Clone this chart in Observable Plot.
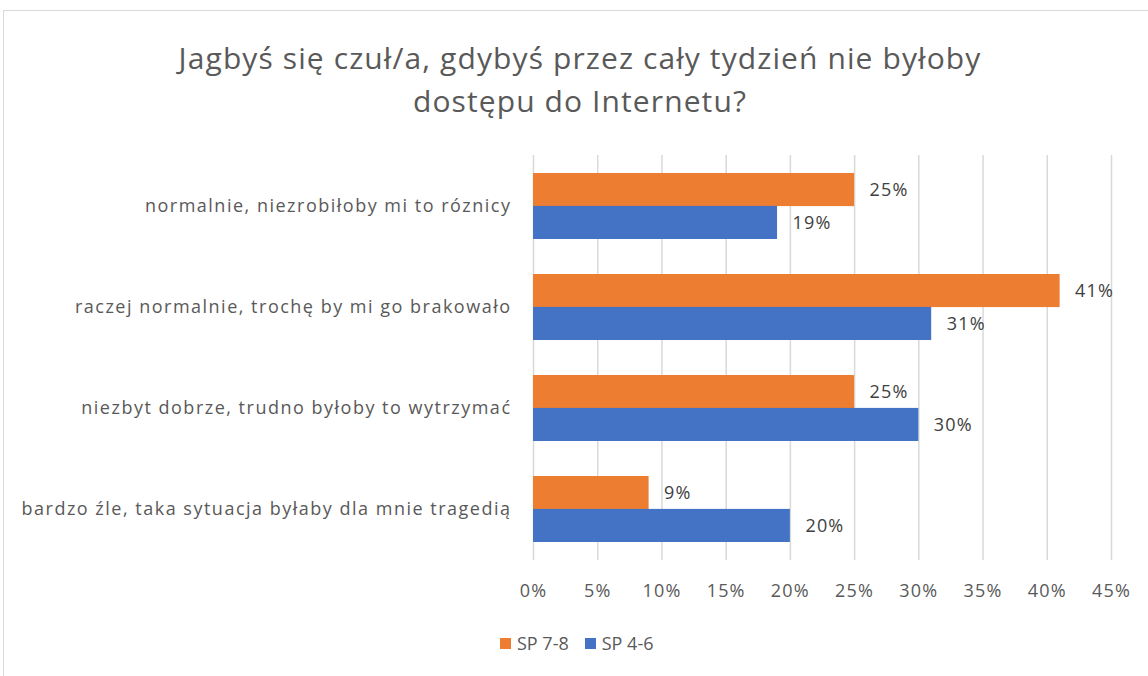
<!DOCTYPE html>
<html>
<head>
<meta charset="utf-8">
<script src="https://cdn.jsdelivr.net/npm/d3@7"></script>
<script src="https://cdn.jsdelivr.net/npm/@observablehq/plot@0.6"></script>
<style>
html, body { margin: 0; padding: 0; width: 1148px; height: 676px; overflow: hidden; background: #fff; font-family: "Open Sans", sans-serif; }
#frame { position: absolute; left: 3px; top: 10px; width: 1160px; height: 700px; border: 1px solid #d9d9d9; box-sizing: border-box; }
#title { position: absolute; left: 0; top: 36px; width: 1160px; text-align: center; font-size: 30px; line-height: 43px; color: #595959; letter-spacing: 1.1px; }
#chart { position: absolute; left: 0; top: 145px; }
#chart g[aria-label="y-axis tick label"] text { letter-spacing: 1.5px; }
#chart g[aria-label="x-axis tick label"] text { letter-spacing: 1.2px; }
#chart g[aria-label="text"] text { letter-spacing: 1.2px; }
#legend { position: absolute; top: 631px; left: 500px; font-size: 18px; color: #595959; display: flex; align-items: center; }
.sw { display: inline-block; width: 11px; height: 11px; margin-right: 6px; }
.item { display: flex; align-items: center; margin-right: 16px; }
</style>
</head>
<body>
<div id="frame"></div>
<div id="title">Jagbyś się czuł/a, gdybyś przez cały tydzień nie byłoby<br>dostępu do Internetu?</div>
<div id="chart"></div>
<div id="legend"></div>
<script>
const categories = [
  "normalnie, niezrobiłoby mi to róznicy",
  "raczej normalnie, trochę by mi go brakowało",
  "niezbyt dobrze, trudno byłoby to wytrzymać",
  "bardzo źle, taka sytuacja byłaby dla mnie tragedią"
];
const seriesNames = ["SP 7-8", "SP 4-6"];
const sp78 = [25, 41, 25, 9];
const sp46 = [19, 31, 30, 20];
const colors = ["#ED7D31", "#4472C4"];
const xTicks = [0, 5, 10, 15, 20, 25, 30, 35, 40, 45];

const d78 = categories.map((c, i) => ({category: c, series: seriesNames[0], value: sp78[i]}));
const d46 = categories.map((c, i) => ({category: c, series: seriesNames[1], value: sp46[i]}));

const H = 470, MT = 10, MB = 55;
const plotH = H - MT - MB;
const step = plotH / 4;
const bw = step * 0.65;
const half = bw / 2;

const chart = Plot.plot({
  width: 1148,
  height: H,
  marginLeft: 533,
  marginRight: 37,
  marginTop: MT,
  marginBottom: MB,
  style: {fontFamily: "'Open Sans', sans-serif", fontSize: "18px", color: "#595959", background: "transparent"},
  x: {domain: [0, 45], ticks: xTicks, tickFormat: d => d + "%", label: null},
  y: {domain: categories, paddingInner: 0.35, paddingOuter: 0.175, label: null},
  color: {domain: seriesNames, range: colors},
  marks: [
    Plot.gridX(xTicks, {stroke: "#d9d9d9", strokeOpacity: 1, strokeWidth: 1.5}),
    Plot.barX(d78, {y: "category", x: "value", fill: "series", insetBottom: half}),
    Plot.barX(d46, {y: "category", x: "value", fill: "series", insetTop: half}),
    Plot.text(d78, {y: "category", x: "value", text: d => d.value + "%", textAnchor: "start", dx: 15, dy: -half / 2, fill: "#404040", fontSize: 18}),
    Plot.text(d46, {y: "category", x: "value", text: d => d.value + "%", textAnchor: "start", dx: 15, dy: half / 2, fill: "#404040", fontSize: 18}),
    Plot.axisX({ticks: xTicks, tickSize: 0, tickPadding: 24, tickFormat: d => d + "%", label: null, fill: "#595959", fontSize: 18}),
    Plot.axisY({tickSize: 0, tickPadding: 22, label: null, fill: "#595959", fontSize: 18})
  ]
});
document.getElementById("chart").appendChild(chart);

const legend = document.getElementById("legend");
seriesNames.forEach((s, i) => {
  const item = document.createElement("div");
  item.className = "item";
  const sw = document.createElement("span");
  sw.className = "sw";
  sw.style.background = colors[i];
  item.appendChild(sw);
  item.appendChild(document.createTextNode(s));
  legend.appendChild(item);
});
</script>
</body>
</html>
